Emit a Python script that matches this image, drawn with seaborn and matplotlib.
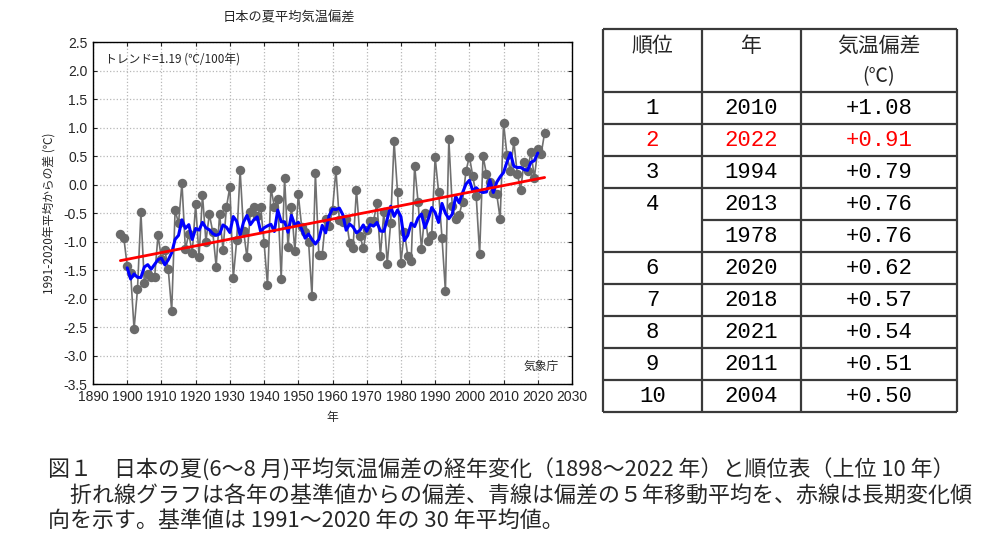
import matplotlib
matplotlib.use("Agg")
import matplotlib.pyplot as plt
import seaborn as sns
import pandas as pd
import numpy as np

# 日本の夏平均気温偏差 (1991-2020年平均からの差, ℃)
years = list(range(1898, 2023))
anomaly = [
    -0.86, -0.93, -1.43, -1.55, -2.54, -1.84, -0.49, -1.72, -1.57, -1.62,  # 1898-1907
    -1.63, -0.89, -1.30, -1.15, -1.49, -2.22, -0.45, -0.68, 0.03, -1.14,   # 1908-1917
    -0.86, -1.20, -0.35, -1.27, -0.18, -1.00, -0.52, -0.83, -1.44, -0.52,  # 1918-1927
    -1.15, -0.40, -0.04, -1.64, -0.98, 0.25, -0.81, -1.28, -0.48, -0.39,   # 1928-1937
    -0.56, -0.39, -1.02, -1.77, -0.06, -0.39, -0.25, -1.65, 0.11, -1.09,   # 1938-1947
    -0.39, -1.17, -0.17, -0.75, -0.83, -1.00, -1.96, 0.20, -1.23, -1.23,   # 1948-1957
    -0.60, -0.73, -0.45, 0.26, -0.63, -0.65, -0.60, -1.02, -1.11, -0.09,   # 1958-1967
    -0.90, -1.12, -0.80, -0.64, -0.64, -0.32, -1.25, -0.48, -1.39, -0.67,  # 1968-1977
    0.76, -0.13, -1.37, -0.83, -1.25, -1.34, 0.33, -0.30, -1.13, -0.50,    # 1978-1987
    -0.99, -0.88, 0.48, -0.13, -0.93, -1.87, 0.79, -0.38, -0.61, -0.54,    # 1988-1997
    -0.30, 0.23, 0.49, 0.15, -0.20, -1.22, 0.50, 0.18, 0.04, -0.15,        # 1998-2007
    -0.17, -0.60, 1.08, 0.51, 0.23, 0.76, 0.19, -0.09, 0.40, 0.24,         # 2008-2017
    0.57, 0.12, 0.62, 0.54, 0.91,                                          # 2018-2022
]

# 順位表 (上位10年)
rank_labels = ["1", "2", "3", "4", "", "6", "7", "8", "9", "10"]
rank_years = [2010, 2022, 1994, 2013, 1978, 2020, 2018, 2021, 2011, 2004]
rank_values = [1.08, 0.91, 0.79, 0.76, 0.76, 0.62, 0.57, 0.54, 0.51, 0.50]

caption = [
    "図１　日本の夏(6～8 月)平均気温偏差の経年変化（1898～2022 年）と順位表（上位 10 年）",
    "　折れ線グラフは各年の基準値からの偏差、青線は偏差の５年移動平均を、赤線は長期変化傾",
    "向を示す。基準値は 1991～2020 年の 30 年平均値。",
]

sns.set_theme(style="ticks")
plt.rcParams['font.family'] = ['Liberation Sans', 'Noto Sans CJK JP', 'DejaVu Sans']
JP = ['Noto Sans CJK JP', 'DejaVu Sans']

df = pd.DataFrame({'year': years, 'anomaly': anomaly})
df['ma5'] = df['anomaly'].rolling(5, center=True).mean()

W, H = 986, 544
fig = plt.figure(figsize=(W / 100, H / 100), dpi=100)
fig.patch.set_facecolor('white')

# ---- グラフ ----
ax = fig.add_axes([93 / W, 1 - 384 / H, 479 / W, 342 / H])
sns.lineplot(data=df, x='year', y='anomaly', color='#707070', lw=1.2,
             marker='o', markersize=6.8, markeredgewidth=0,
             markerfacecolor='#6a6a6a', ax=ax, zorder=2)
sns.lineplot(data=df, x='year', y='ma5', color='#0000ff', lw=2.2, ax=ax, zorder=3)
sns.regplot(data=df, x='year', y='anomaly', scatter=False, ci=None,
            color='#ff0000', line_kws={'lw': 2.0, 'zorder': 4}, ax=ax)

ax.set_xlim(1890, 2030)
ax.set_ylim(-3.5, 2.5)
ax.set_xticks(range(1890, 2031, 10))
ax.set_yticks(np.arange(-3.5, 2.51, 0.5))
ax.set_yticklabels([f"{v:.1f}" for v in np.arange(-3.5, 2.51, 0.5)])
ax.tick_params(direction='in', length=3, width=0.8, labelsize=10,
               top=True, right=True, pad=4)
ax.grid(True, ls=':', color='#b8b8b8', lw=0.9)
for s in ax.spines.values():
    s.set_color('black')
    s.set_linewidth(1.0)
ax.set_xlabel('年', fontfamily=JP, fontsize=8.5, labelpad=5)
ax.set_ylabel('1991-2020年平均からの差 (℃)', fontfamily=JP, fontsize=8.5, labelpad=6)
ax.text(1893.5, 2.2, 'トレンド=1.19 (℃/100年)', fontfamily=JP, fontsize=8.5, va='center')
ax.text(2026, -3.2, '気象庁', fontfamily=JP, fontsize=8.5, va='center', ha='right')
fig.text(289 / W, 1 - 18 / H, '日本の夏平均気温偏差', fontfamily=JP, fontsize=9.5,
         ha='center', va='center')

# ---- 順位表 ----
tx = fig.add_axes([0, 0, 1, 1], facecolor='none')
tx.set_xlim(0, W)
tx.set_ylim(H, 0)
tx.axis('off')
cols = [603, 702, 801, 957]
top, head = 29, 92
row_h = 32
rows = [head + row_h * i for i in range(len(rank_years) + 1)]
lc = '#3a3a3a'
tx.hlines([top], cols[0], cols[-1], color=lc, lw=1.6)
for i, y in enumerate(rows):
    x0 = cols[1] if i == 4 else cols[0]
    tx.hlines([y], x0, cols[-1], color=lc, lw=1.6)
tx.vlines(cols, top, rows[-1], color=lc, lw=1.6)

tx.text((cols[0] + cols[1]) / 2, 46, '順位', fontfamily=JP, fontsize=15, ha='center', va='center')
tx.text((cols[1] + cols[2]) / 2, 46, '年', fontfamily=JP, fontsize=15, ha='center', va='center')
tx.text((cols[2] + cols[3]) / 2, 46, '気温偏差', fontfamily=JP, fontsize=15, ha='center', va='center')
tx.text((cols[2] + cols[3]) / 2, 77, '(℃)', fontfamily=JP, fontsize=14, ha='center', va='center')
for i, (r, yr, v) in enumerate(zip(rank_labels, rank_years, rank_values)):
    yc = rows[i] + row_h / 2 + 1
    c = '#ff0000' if yr == 2022 else 'black'
    tx.text((cols[0] + cols[1]) / 2, yc, r, fontfamily='Liberation Mono', fontsize=16,
            ha='center', va='center', color=c)
    tx.text((cols[1] + cols[2]) / 2, yc, str(yr), fontfamily='Liberation Mono', fontsize=16,
            ha='center', va='center', color=c)
    tx.text((cols[2] + cols[3]) / 2, yc, f"+{v:.2f}", fontfamily='Liberation Mono', fontsize=16,
            ha='center', va='center', color=c)

# ---- 説明文 ----
for k, (line, yp) in enumerate(zip(caption, [470, 496, 521])):
    fig.text(48 / W, 1 - yp / H, line, fontfamily=JP, fontsize=15.8, va='center', ha='left')

fig.savefig('out.png', dpi=100)
